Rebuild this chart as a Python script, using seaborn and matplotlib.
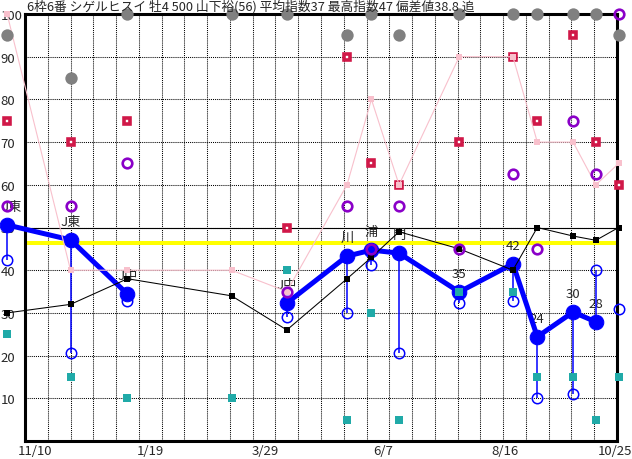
import numpy as np
import pandas as pd
import matplotlib
matplotlib.use('Agg')
import matplotlib.pyplot as plt
import seaborn as sns

sns.set_style('white')
plt.rcParams['font.family'] = ['Noto Sans CJK JP', 'DejaVu Sans']

title = '6枠6番 シゲルヒスイ 牡4 500 山下裕(56) 平均指数37 最高指数47 偏差値38.8 追'

# race days, counted from the left edge of the frame (11/4)
race_day = [-11, 28, 63, 127, 161, 198, 213, 230, 267, 300, 315, 337, 351, 365]
race_label = ['J東', 'J東', 'J中', '', 'J中', '川', '浦', '門', '35', '42', '24', '30', '28', '']
index_main = [50.6, 47.1, 34.4, np.nan, 32.3, 43.3, 44.7, 44.0, 34.9, 41.5, 24.4, 30.2, 27.9, np.nan]
index_low = [42.4, 20.6, 32.8, np.nan, 29.0, 30.0, 41.2, 20.6, 32.3, 32.8, 10.0, 11.0, 40.0, 31.0]
index_black = [30, 32, 38, 34, 26, 38, 43, 49, 45, 40, 50, 48, 47, 50]
index_pink = [100, 40, 40, 40, 35, 60, 80, 60, 90, 90, 70, 70, 60, 65]
mark_red = [75, 70, 75, np.nan, 50, 90, 65, 60, 70, 90, 75, 95, 70, 60]
mark_purple = [55, 55, 65, np.nan, 35, 55, 45, 55, 45, 62.5, 45, 75, 62.5, 100]
mark_gray = [95, 85, 100, 100, 100, 95, 100, 95, 100, 100, 100, 100, 100, 95]
mark_teal = [25, 15, 10, 10, 40, 5, 30, 5, 35, 35, 15, 15, 5, 15]

tick_day = [6, 77, 148, 220, 295, 363]
tick_label = ['11/10', '1/19', '3/29', '6/7', '8/16', '10/25']
grid_day = list(range(14, 351, 14))
yellow_level = 46.4
day_max = 364

df = pd.DataFrame({
    'day': race_day, 'label': race_label, 'main': index_main, 'low': index_low,
    'black': index_black, 'pink': index_pink, 'red': mark_red,
    'purple': mark_purple, 'gray': mark_gray, 'teal': mark_teal,
})
df['seg'] = df['main'].isna().cumsum()

fig = plt.figure(figsize=(6.32, 4.6), dpi=100)
ax = fig.add_axes([25 / 632, 18 / 460, 592 / 632, 427 / 460])

ax.axhline(yellow_level, color='#ffff00', lw=2.9, zorder=1.5)
ax.axhline(50, color='black', lw=0.8, zorder=1.6)

# venue / index labels above the main dots
main = df.dropna(subset=['main'])
labels = []
for d, v, t in zip(main['day'], main['main'], main['label']):
    labels.append(ax.annotate(t, (d, v), xytext=(0, 13.5), textcoords='offset points',
                              ha='center', va='center', fontsize=9.5,
                              annotation_clip=False, zorder=2))

sns.lineplot(data=df, x='day', y='pink', sort=False, color='#f8c0cc', lw=0.8,
             marker='s', markersize=4.3, markeredgewidth=0, markerfacecolor='#f8c0cc',
             markeredgecolor='#f8c0cc', clip_on=False, zorder=4, ax=ax)

sns.lineplot(data=main, x='day', y='main', units='seg', estimator=None, sort=False,
             color='#0000ff', lw=3.6, marker='o', markersize=10.5,
             markeredgecolor='#0000ff', markerfacecolor='#0000ff',
             clip_on=False, zorder=3, ax=ax)

pair = df.dropna(subset=['main', 'low'])
ax.vlines(pair['day'], pair['main'], pair['low'], colors='#0000ff', lw=1.1,
          clip_on=False, zorder=2.8)
ax.plot(df['day'], df['low'], ls='none', marker='o', markersize=7.5,
        markerfacecolor='none', markeredgecolor='#0000ff', markeredgewidth=1.1,
        clip_on=False, zorder=2.9)

sns.lineplot(data=df, x='day', y='black', sort=False, color='black', lw=0.75,
             marker='s', markersize=4.3, markeredgewidth=0, markerfacecolor='black',
             markeredgecolor='black', clip_on=False, zorder=4.5, ax=ax)

ax.plot(df['day'], df['red'], ls='none', marker='s', markersize=5,
        markerfacecolor='white', markeredgecolor='#d01848', markeredgewidth=2.6,
        clip_on=False, zorder=3.8)
ax.plot(df['day'], df['pink'], ls='none', marker='s', markersize=4.3,
        markerfacecolor='#f8c0cc', markeredgewidth=0, clip_on=False, zorder=4.1)
ax.plot(df['day'], df['purple'], ls='none', marker='o', markersize=6.9,
        markerfacecolor='none', markeredgecolor='#8a00c8', markeredgewidth=1.9,
        clip_on=False, zorder=5)
sns.scatterplot(data=df, x='day', y='teal', marker='s', s=5.3 ** 2, color='#20aaa8',
                linewidth=0, clip_on=False, zorder=5.5, ax=ax)
sns.scatterplot(data=df, x='day', y='gray', marker='o', s=8.9 ** 2, color='#808080',
                linewidth=0, clip_on=False, zorder=5.5, ax=ax)

ax.set_xlim(0, day_max)
ax.set_ylim(0, 100)
ax.set_xticks(tick_day)
ax.set_xticklabels(tick_label, fontsize=9.5)
ax.set_xticks(grid_day, minor=True)
ax.set_yticks(range(10, 101, 10))
ax.set_yticklabels([str(v) for v in range(10, 101, 10)], fontsize=9.5)
for lab in ax.get_yticklabels():
    lab.set_horizontalalignment('left')
ax.tick_params(axis='y', length=0, pad=17.5)
ax.tick_params(axis='x', which='both', length=0, pad=2.5)

ax.set_axisbelow(True)
ax.yaxis.grid(True, color='black', lw=0.75, ls=(0, (1, 1)))
ax.xaxis.grid(True, which='minor', color='black', lw=0.75, ls=(0, (1, 1)))
ax.xaxis.grid(False, which='major')
ax.set_xlabel('')
ax.set_ylabel('')
for s in ax.spines.values():
    s.set_visible(True)
    s.set_color('black')
    s.set_linewidth(2.2)

fig.text(27 / 632, 1 - 7 / 460, title, fontsize=9.2, ha='left', va='center')

# keep the leftmost label inside the picture
fig.canvas.draw()
for t in labels:
    x0 = t.get_window_extent().x0
    if x0 < 1:
        ox, oy = t.xyann
        t.xyann = (ox + (1 - x0) * 72 / fig.dpi, oy)

fig.savefig('out.png', dpi=100)
